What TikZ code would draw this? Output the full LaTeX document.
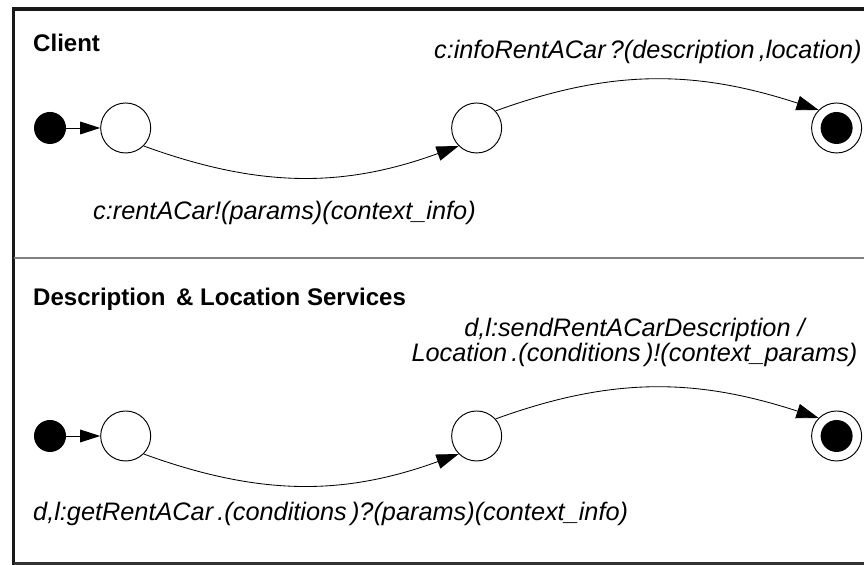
\documentclass[tikz,border=0pt]{standalone}
\usepackage{fontspec}
\setmainfont{Liberation Sans}
\usetikzlibrary{arrows.meta, positioning}

\begin{document}
\begin{tikzpicture}[
        state/.style={
            circle, draw=black, line width=0.9pt, fill=white,
            minimum size=1.667cm, inner sep=0pt
        },
        initst/.style={circle, fill=black, minimum size=1.067cm, inner sep=0pt},
        finst/.style={state,
            path picture={\fill[black] (path picture bounding box.center) circle (0.533cm);}},
        ttl/.style={font=\fontsize{22.8pt}{24pt}\selectfont\bfseries, anchor=base west, inner sep=0pt},
        lbl/.style={font=\fontsize{24pt}{24.5pt}\selectfont\itshape, inner sep=0pt},
        enter/.style={-{Triangle[length=19pt, width=12pt]}, line width=0.9pt},
        trans/.style={-{Triangle[length=21pt, width=14pt]}, line width=0.8pt},
        frame/.style={line width=3.3pt, black!90, line join=miter}
    ]
    \useasboundingbox (0,0) rectangle (28.8,18.833);

    % === Frame and lane divider ===
    \draw[frame] (28.8,18.533) -- (0.45,18.533) -- (0.45,0);
    \draw[line width=2pt, black!80] (0.45,0.05) -- (28.8,0.05);
    \draw[line width=1.6pt, black!50] (0.45,10.233) -- (28.8,10.233);

    % === Client lane ===
    \node[ttl] (ctitle) at (1.1,17.1) {Client};
    \node[initst] (ci) at (1.667,14.567) {};
    \node[state, right=1.133cm of ci] (c1) {};
    \node[state, right=10cm of c1] (c2) {};
    \node[finst, right=10.3cm of c2] (cf) {};

    \draw[enter] (ci) -- (c1);
    \draw[trans] (c1.-45) to[out=-20, in=200] (c2.-135);
    \draw[trans] (c2.42) to[out=20, in=162] (cf.135);

    \node[lbl, anchor=base west] (csend) at (3.1,11.5) {c:rentACar!(params)(context\_info)};
    \node[lbl, anchor=base east] (crecv) at (28.73,16.87) {c:infoRentACar\,?(description\,,location)};

    % === Description & Location lane ===
    \node[ttl] (dtitle) at (1.1,8.633) {Description \,\& Location Services};
    \node[initst] (di) at (1.667,4.3) {};
    \node[state, right=1.133cm of di] (d1) {};
    \node[state, right=10cm of d1] (d2) {};
    \node[finst, right=10.3cm of d2] (df) {};

    \draw[enter] (di) -- (d1);
    \draw[trans] (d1.-45) to[out=-20, in=200] (d2.-135);
    \draw[trans] (d2.42) to[out=20, in=162] (df.135);

    \node[lbl, anchor=base west] (drecv) at (1.1,1.467) {d,l:getRentACar\,.(conditions\,)?(params)(context\_info)};
    \node[lbl, align=center, anchor=base] (dsend) at (21.15,6.767)
        {d,l:sendRentACarDescription /\\Location\,.(conditions\,)!(context\_params)};
\end{tikzpicture}
\end{document}
